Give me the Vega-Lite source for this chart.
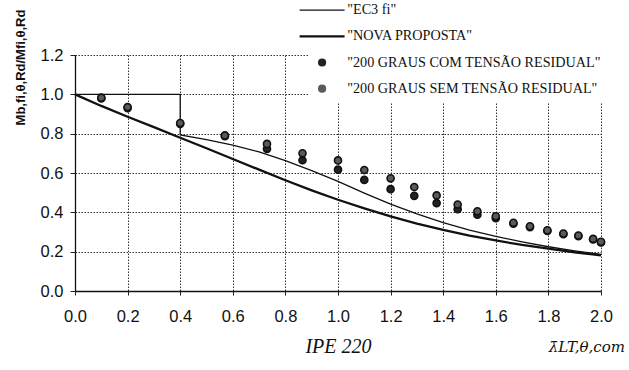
{
  "$schema": "https://vega.github.io/schema/vega-lite/v6.json",
  "width": 526,
  "height": 236,
  "autosize": {"type": "none"},
  "padding": {"left": 75, "top": 55, "right": 28, "bottom": 79},
  "background": "white",
  "config": {"view": {"stroke": null}},
  "title": {
    "text": "λ̄LT,θ,com",
    "orient": "bottom",
    "anchor": "end",
    "frame": "group",
    "font": "DejaVu Serif",
    "fontStyle": "italic",
    "fontWeight": "normal",
    "fontSize": 15,
    "color": "#111",
    "dx": 24,
    "offset": -17
  },
  "datasets": {
    "curves": [
      {"series": "EC3 fi", "k": 0, "lambda": 0.0, "m": 1.0},
      {"series": "EC3 fi", "k": 1, "lambda": 0.4, "m": 1.0},
      {"series": "EC3 fi", "k": 2, "lambda": 0.4, "m": 0.794},
      {"series": "EC3 fi", "k": 3, "lambda": 0.5, "m": 0.770},
      {"series": "EC3 fi", "k": 4, "lambda": 0.6, "m": 0.742},
      {"series": "EC3 fi", "k": 5, "lambda": 0.7, "m": 0.707},
      {"series": "EC3 fi", "k": 6, "lambda": 0.8, "m": 0.663},
      {"series": "EC3 fi", "k": 7, "lambda": 0.9, "m": 0.612},
      {"series": "EC3 fi", "k": 8, "lambda": 1.0, "m": 0.557},
      {"series": "EC3 fi", "k": 9, "lambda": 1.1, "m": 0.498},
      {"series": "EC3 fi", "k": 10, "lambda": 1.2, "m": 0.442},
      {"series": "EC3 fi", "k": 11, "lambda": 1.3, "m": 0.392},
      {"series": "EC3 fi", "k": 12, "lambda": 1.4, "m": 0.348},
      {"series": "EC3 fi", "k": 13, "lambda": 1.5, "m": 0.310},
      {"series": "EC3 fi", "k": 14, "lambda": 1.6, "m": 0.278},
      {"series": "EC3 fi", "k": 15, "lambda": 1.7, "m": 0.250},
      {"series": "EC3 fi", "k": 16, "lambda": 1.8, "m": 0.225},
      {"series": "EC3 fi", "k": 17, "lambda": 1.9, "m": 0.204},
      {"series": "EC3 fi", "k": 18, "lambda": 2.0, "m": 0.186},
      {"series": "NOVA PROPOSTA", "k": 0, "lambda": 0.0, "m": 1.0},
      {"series": "NOVA PROPOSTA", "k": 1, "lambda": 0.1, "m": 0.941},
      {"series": "NOVA PROPOSTA", "k": 2, "lambda": 0.2, "m": 0.886},
      {"series": "NOVA PROPOSTA", "k": 3, "lambda": 0.3, "m": 0.833},
      {"series": "NOVA PROPOSTA", "k": 4, "lambda": 0.4, "m": 0.779},
      {"series": "NOVA PROPOSTA", "k": 5, "lambda": 0.5, "m": 0.726},
      {"series": "NOVA PROPOSTA", "k": 6, "lambda": 0.6, "m": 0.671},
      {"series": "NOVA PROPOSTA", "k": 7, "lambda": 0.7, "m": 0.617},
      {"series": "NOVA PROPOSTA", "k": 8, "lambda": 0.8, "m": 0.563},
      {"series": "NOVA PROPOSTA", "k": 9, "lambda": 0.9, "m": 0.512},
      {"series": "NOVA PROPOSTA", "k": 10, "lambda": 1.0, "m": 0.464},
      {"series": "NOVA PROPOSTA", "k": 11, "lambda": 1.1, "m": 0.420},
      {"series": "NOVA PROPOSTA", "k": 12, "lambda": 1.2, "m": 0.379},
      {"series": "NOVA PROPOSTA", "k": 13, "lambda": 1.3, "m": 0.343},
      {"series": "NOVA PROPOSTA", "k": 14, "lambda": 1.4, "m": 0.311},
      {"series": "NOVA PROPOSTA", "k": 15, "lambda": 1.5, "m": 0.282},
      {"series": "NOVA PROPOSTA", "k": 16, "lambda": 1.6, "m": 0.257},
      {"series": "NOVA PROPOSTA", "k": 17, "lambda": 1.7, "m": 0.234},
      {"series": "NOVA PROPOSTA", "k": 18, "lambda": 1.8, "m": 0.215},
      {"series": "NOVA PROPOSTA", "k": 19, "lambda": 1.9, "m": 0.197},
      {"series": "NOVA PROPOSTA", "k": 20, "lambda": 2.0, "m": 0.181}
    ],
    "points": [
      {"series": "200 GRAUS COM TENSÃO RESIDUAL", "lambda": 0.1, "m": 0.979},
      {"series": "200 GRAUS COM TENSÃO RESIDUAL", "lambda": 0.2, "m": 0.930},
      {"series": "200 GRAUS COM TENSÃO RESIDUAL", "lambda": 0.4, "m": 0.850},
      {"series": "200 GRAUS COM TENSÃO RESIDUAL", "lambda": 0.57, "m": 0.787},
      {"series": "200 GRAUS COM TENSÃO RESIDUAL", "lambda": 0.73, "m": 0.723},
      {"series": "200 GRAUS COM TENSÃO RESIDUAL", "lambda": 0.865, "m": 0.665},
      {"series": "200 GRAUS COM TENSÃO RESIDUAL", "lambda": 1.0, "m": 0.617},
      {"series": "200 GRAUS COM TENSÃO RESIDUAL", "lambda": 1.1, "m": 0.565},
      {"series": "200 GRAUS COM TENSÃO RESIDUAL", "lambda": 1.2, "m": 0.518},
      {"series": "200 GRAUS COM TENSÃO RESIDUAL", "lambda": 1.29, "m": 0.484},
      {"series": "200 GRAUS COM TENSÃO RESIDUAL", "lambda": 1.375, "m": 0.447},
      {"series": "200 GRAUS COM TENSÃO RESIDUAL", "lambda": 1.455, "m": 0.416},
      {"series": "200 GRAUS COM TENSÃO RESIDUAL", "lambda": 1.53, "m": 0.388},
      {"series": "200 GRAUS COM TENSÃO RESIDUAL", "lambda": 1.6, "m": 0.370},
      {"series": "200 GRAUS COM TENSÃO RESIDUAL", "lambda": 1.667, "m": 0.342},
      {"series": "200 GRAUS COM TENSÃO RESIDUAL", "lambda": 1.73, "m": 0.325},
      {"series": "200 GRAUS COM TENSÃO RESIDUAL", "lambda": 1.796, "m": 0.305},
      {"series": "200 GRAUS COM TENSÃO RESIDUAL", "lambda": 1.857, "m": 0.289},
      {"series": "200 GRAUS COM TENSÃO RESIDUAL", "lambda": 1.914, "m": 0.279},
      {"series": "200 GRAUS COM TENSÃO RESIDUAL", "lambda": 1.97, "m": 0.262},
      {"series": "200 GRAUS COM TENSÃO RESIDUAL", "lambda": 2.0, "m": 0.247},
      {"series": "200 GRAUS SEM TENSÃO RESIDUAL", "lambda": 0.1, "m": 0.983},
      {"series": "200 GRAUS SEM TENSÃO RESIDUAL", "lambda": 0.2, "m": 0.935},
      {"series": "200 GRAUS SEM TENSÃO RESIDUAL", "lambda": 0.4, "m": 0.854},
      {"series": "200 GRAUS SEM TENSÃO RESIDUAL", "lambda": 0.57, "m": 0.791},
      {"series": "200 GRAUS SEM TENSÃO RESIDUAL", "lambda": 0.73, "m": 0.748},
      {"series": "200 GRAUS SEM TENSÃO RESIDUAL", "lambda": 0.865, "m": 0.700},
      {"series": "200 GRAUS SEM TENSÃO RESIDUAL", "lambda": 1.0, "m": 0.664},
      {"series": "200 GRAUS SEM TENSÃO RESIDUAL", "lambda": 1.1, "m": 0.615},
      {"series": "200 GRAUS SEM TENSÃO RESIDUAL", "lambda": 1.2, "m": 0.573},
      {"series": "200 GRAUS SEM TENSÃO RESIDUAL", "lambda": 1.29, "m": 0.529},
      {"series": "200 GRAUS SEM TENSÃO RESIDUAL", "lambda": 1.375, "m": 0.486},
      {"series": "200 GRAUS SEM TENSÃO RESIDUAL", "lambda": 1.455, "m": 0.440},
      {"series": "200 GRAUS SEM TENSÃO RESIDUAL", "lambda": 1.53, "m": 0.405},
      {"series": "200 GRAUS SEM TENSÃO RESIDUAL", "lambda": 1.6, "m": 0.380},
      {"series": "200 GRAUS SEM TENSÃO RESIDUAL", "lambda": 1.667, "m": 0.347},
      {"series": "200 GRAUS SEM TENSÃO RESIDUAL", "lambda": 1.73, "m": 0.329},
      {"series": "200 GRAUS SEM TENSÃO RESIDUAL", "lambda": 1.796, "m": 0.309},
      {"series": "200 GRAUS SEM TENSÃO RESIDUAL", "lambda": 1.857, "m": 0.292},
      {"series": "200 GRAUS SEM TENSÃO RESIDUAL", "lambda": 1.914, "m": 0.282},
      {"series": "200 GRAUS SEM TENSÃO RESIDUAL", "lambda": 1.97, "m": 0.265},
      {"series": "200 GRAUS SEM TENSÃO RESIDUAL", "lambda": 2.0, "m": 0.250}
    ]
  },
  "encoding": {
    "x": {
      "field": "lambda",
      "type": "quantitative",
      "scale": {"domain": [0, 2], "nice": false, "zero": false},
      "axis": {
        "values": [0, 0.2, 0.4, 0.6, 0.8, 1.0, 1.2, 1.4, 1.6, 1.8, 2.0],
        "format": ".1f",
        "title": "IPE 220",
        "titleFont": "Liberation Serif",
        "titleFontStyle": "italic",
        "titleFontWeight": "normal",
        "titleFontSize": 20,
        "titleColor": "#111",
        "titlePadding": 12,
        "labelFont": "Liberation Sans",
        "labelFontSize": 16.5,
        "labelColor": "#111",
        "labelPadding": 13,
        "labelFlush": false,
        "tickSize": 4,
        "tickColor": "#222",
        "domainColor": "#111",
        "domainWidth": 1.3,
        "grid": true,
        "gridColor": "#333",
        "gridDash": [1.5, 1.5],
        "gridWidth": 1,
        "gridOpacity": 1,
        "zindex": 0
      }
    },
    "y": {
      "field": "m",
      "type": "quantitative",
      "scale": {"domain": [0, 1.2], "nice": false, "zero": false},
      "axis": {
        "values": [0, 0.2, 0.4, 0.6, 0.8, 1.0, 1.2],
        "format": ".1f",
        "title": "Mb,fi,θ,Rd/Mfi,θ,Rd",
        "titleFont": "Liberation Sans",
        "titleFontSize": 13,
        "titleFontWeight": "bold",
        "titleColor": "#111",
        "titleX": -55,
        "titleY": 12,
        "titleAlign": "center",
        "titleBaseline": "middle",
        "titleAngle": -90,
        "labelFont": "Liberation Sans",
        "labelFontSize": 16.5,
        "labelColor": "#111",
        "labelPadding": 7,
        "tickSize": 5,
        "tickColor": "#222",
        "domainColor": "#111",
        "domainWidth": 1.3,
        "grid": true,
        "gridColor": "#333",
        "gridDash": [1.5, 1.5],
        "gridWidth": 1,
        "gridOpacity": 1,
        "zindex": 0
      }
    }
  },
  "layer": [
    {
      "data": {"name": "curves"},
      "mark": {"type": "line", "strokeCap": "butt", "strokeJoin": "miter"},
      "encoding": {
        "color": {
          "field": "series",
          "type": "nominal",
          "scale": {
            "domain": ["EC3 fi", "NOVA PROPOSTA", "200 GRAUS COM TENSÃO RESIDUAL", "200 GRAUS SEM TENSÃO RESIDUAL"],
            "range": ["#111111", "#111111", "#222222", "#5a5a5a"]
          },
          "legend": {
            "title": null,
            "orient": "none",
            "legendX": 233,
            "legendY": -59,
            "padding": 7,
            "fillColor": "white",
            "strokeColor": null,
            "symbolSize": 45,
            "rowPadding": 11.2,
            "labelOffset": 18,
            "labelFont": "Liberation Serif",
            "labelFontSize": 14.2,
            "labelColor": "#111",
            "labelLimit": 400,
            "labelExpr": "'\"' + datum.label + '\"'",
            "encode": {
              "symbols": {
                "update": {
                  "shape": {"signal": "indexof(['EC3 fi', 'NOVA PROPOSTA'], datum.value) >= 0 ? 'stroke' : 'circle'"},
                  "size": {"signal": "indexof(['EC3 fi', 'NOVA PROPOSTA'], datum.value) >= 0 ? 2025 : 45"},
                  "strokeWidth": {"signal": "datum.value == 'EC3 fi' ? 1.3 : (datum.value == 'NOVA PROPOSTA' ? 2.3 : 1.5)"},
                  "stroke": {"value": "#111111"},
                  "fill": {"signal": "datum.value == '200 GRAUS COM TENSÃO RESIDUAL' ? '#222222' : (datum.value == '200 GRAUS SEM TENSÃO RESIDUAL' ? '#9a9a9a' : 'transparent')"},
                  "opacity": {"value": 1}
                }
              }
            }
          }
        },
        "strokeWidth": {
          "field": "series",
          "type": "nominal",
          "scale": {"domain": ["EC3 fi", "NOVA PROPOSTA"], "range": [1.3, 2.3]},
          "legend": null
        },
        "order": {"field": "k", "type": "quantitative"}
      }
    },
    {
      "data": {"name": "points"},
      "mark": {"type": "point", "filled": true, "stroke": "#111111", "strokeWidth": 1.6, "size": 50, "opacity": 1},
      "encoding": {
        "color": {"field": "series", "type": "nominal"}
      }
    }
  ]
}
